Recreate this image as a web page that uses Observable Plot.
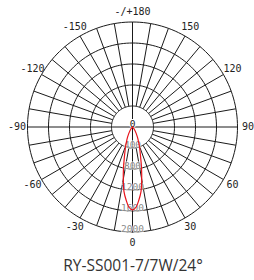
<!DOCTYPE html>
<html><head><meta charset="utf-8">
<script src="https://cdn.jsdelivr.net/npm/d3@7"></script>
<script src="https://cdn.jsdelivr.net/npm/@observablehq/plot@0.6"></script>
<style>
body{margin:0;background:#fff;width:254px;}
#title{font-family:"Open Sans",sans-serif;font-size:15.5px;color:#333;text-align:center;line-height:26px;height:26px;padding-left:12px;box-sizing:border-box;width:254px;}
svg{display:block}
</style></head><body><div id="chart"></div><div id="title"></div>
<script>
const title = "RY-SS001-7/7W/24°";
const curveAngles = [-50, -45, -40, -35, -30, -25, -22.5, -20, -17.5, -15, -12.5, -10, -7.5, -5, -2.5, 0, 2.5, 5, 7.5, 10, 12.5, 15, 17.5, 20, 22.5, 25, 30, 35, 40, 45, 50];
const curveIntensity = [0, 15, 40, 80, 140, 235, 295, 380, 470, 600, 790, 1010, 1240, 1395, 1530, 1580, 1530, 1395, 1240, 1010, 790, 600, 470, 380, 295, 235, 140, 80, 40, 15, 0];
const ringValues = [400, 800, 1200, 1600, 2000];
const ringLabels = ["400", "800", "1200", "1600", "2000"];
const angleTicks = [0, 30, 60, 90, 120, 150, 180, -150, -120, -90, -60, -30];
const angleLabels = ["0", "30", "60", "90", "120", "150", "-/+180", "-150", "-120", "-90", "-60", "-30"];
const centerLabel = "0";

const rad = d => d * Math.PI / 180;
const px = (r, a) => r * Math.sin(rad(a));
const py = (r, a) => -r * Math.cos(rad(a));
const R = 2000, labelR = 2200;

const gridPts = ringValues.flatMap(v => d3.range(0, 361, 2).map(a => ({ring: v, x: px(v, a), y: py(v, a)})));
const spokes = d3.range(-170, 181, 10).filter(a => a % 90 !== 0).map(a => ({x1: px(ringValues[0], a), y1: py(ringValues[0], a), x2: px(R, a), y2: py(R, a)}));
const axes = [{x1: -R, y1: 0, x2: R, y2: 0}, {x1: 0, y1: -R, x2: 0, y2: R}];
const curve = curveAngles.map((a, i) => ({x: px(curveIntensity[i], a), y: py(curveIntensity[i], a)}));
const ringText = ringValues.map((v, i) => ({x: 0, y: -v, t: ringLabels[i]}));
const angleText = angleTicks.map((a, i) => ({x: px(labelR, a), y: py(labelR, a), t: angleLabels[i]}));

const mono = "DejaVu Sans Mono, monospace";
const chart = Plot.plot({
  width: 254, height: 252, margin: 0,
  x: {axis: null, domain: [-R, R], range: [27, 237]},
  y: {axis: null, domain: [-R, R], range: [231.5, 21.5]},
  marks: [
    Plot.line(gridPts, {x: "x", y: "y", z: "ring", stroke: "#1a1a1a", strokeWidth: 1}),
    Plot.link(spokes, {x1: "x1", y1: "y1", x2: "x2", y2: "y2", stroke: "#1a1a1a", strokeWidth: 1}),
    Plot.link(axes, {x1: "x1", y1: "y1", x2: "x2", y2: "y2", stroke: "#1a1a1a", strokeWidth: 1}),
    Plot.text(ringText, {x: "x", y: "y", text: "t", textAnchor: "middle", lineAnchor: "bottom", fill: "#8a8a8a", stroke: "white", strokeWidth: 1.5, strokeOpacity: 0.7, fontFamily: mono, fontSize: 9.5}),
    Plot.text([centerLabel], {x: 0, y: 0, text: d => d, textAnchor: "middle", lineAnchor: "bottom", fill: "#222", stroke: "white", strokeWidth: 2, fontFamily: mono, fontSize: 9.5}),
    Plot.line(curve, {x: "x", y: "y", stroke: "#e8141c", strokeWidth: 1.2, curve: "catmull-rom"}),
    Plot.text(angleText, {x: "x", y: "y", text: "t", textAnchor: "middle", lineAnchor: "middle", fill: "#222", fontFamily: mono, fontSize: 10})
  ]
});
document.getElementById("chart").append(chart);
document.getElementById("title").textContent = title;
</script></body></html>
